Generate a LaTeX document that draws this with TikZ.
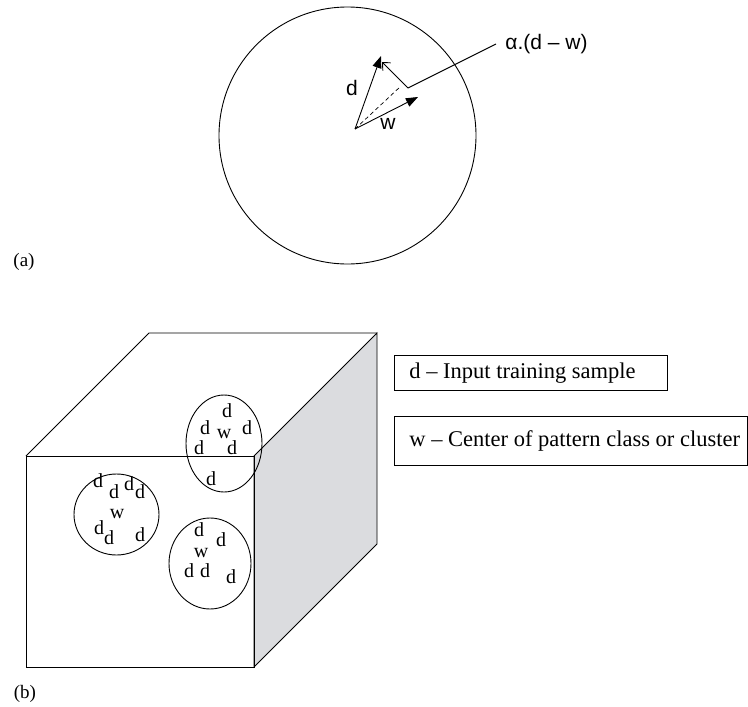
\documentclass[tikz,border=0pt]{standalone}
\usepackage{fontspec}
\setmainfont{Liberation Serif}
\newfontfamily\arialf{Liberation Sans}
\usetikzlibrary{arrows.meta,shapes.geometric}
\definecolor{faceshade}{RGB}{219,220,223}
\begin{document}
\begin{tikzpicture}[x=1pt,y=-1pt,
  line width=0.9pt,
  vec/.style={-{Triangle[length=12pt,width=9pt]}},
  upd/.style={-{Straight Barb[length=6pt,width=11pt]}},
  sanslab/.style={inner sep=0pt,font=\arialf\fontsize{21}{21}\selectfont},
  serlab/.style={inner sep=0pt,font=\fontsize{19}{19}\selectfont},
  ptl/.style={inner sep=0pt,font=\fontsize{20}{20}\selectfont},
  legbox/.style={draw,anchor=north west,inner sep=0pt},
  legtxt/.style={anchor=west,inner sep=0pt,font=\fontsize{22.5}{22.5}\selectfont},
  clus/.style={draw,ellipse,inner sep=0pt}]
\useasboundingbox (0,0) rectangle (748,707);
% ---------- (a) ----------
\node[draw,circle,minimum size=257pt,inner sep=0pt] (C) at (347.5,135.5) {};
\coordinate (O) at (355,129);
\coordinate (D) at (381,56);
\coordinate (W) at (418,97);
\coordinate (U1) at (408,88);
\coordinate (U2) at (382,62);
\coordinate (Dsh) at (401,86);
\draw[vec] (O) -- (D);
\draw[vec] (O) -- (W);
\draw[upd] (U1) -- (U2);
\draw[dashed,line width=0.7pt,dash pattern=on 4pt off 3pt] (O) -- (Dsh);
\node[sanslab,anchor=west] (lab) at (505,44) {α.(d – w)};
\draw (U1) -- ([xshift=-9pt]lab.west);
\node[sanslab] (dl) at (352,88) {d};
\node[sanslab] (wl) at (388,124) {w};
\node[serlab] (pa) at (24,262) {(a)};
% ---------- (b) ----------
\coordinate (F1) at (26,456);
\coordinate (F2) at (254,456);
\coordinate (F3) at (254,667);
\coordinate (F4) at (26,667);
\coordinate (B1) at (149,333);
\coordinate (B2) at (377,333);
\coordinate (B3) at (377,544);
\draw[fill=faceshade] (F2) -- (B2) -- (B3) -- (F3) -- cycle;
\draw (F1) -- (B1) -- (B2);
\draw (F1) rectangle (F3);
% clusters
\node[clus,minimum width=76pt,minimum height=97pt] (E1) at (224,443.5) {};
\node[clus,minimum width=85pt,minimum height=81pt] (E2) at (116.5,514.5) {};
\node[clus,minimum width=82pt,minimum height=91pt] (E3) at (210,563.5) {};
% upper cluster
\node[ptl] (a1) at (227,411) {d};
\node[ptl] (a2) at (205,428) {d};
\node[ptl] (a3) at (224,434) {w};
\node[ptl] (a4) at (247,428) {d};
\node[ptl] (a5) at (199,448) {d};
\node[ptl] (a6) at (232,448) {d};
\node[ptl] (a7) at (211,479) {d};
% left cluster
\node[ptl] (b1) at (98,481) {d};
\node[ptl] (b2) at (114,492) {d};
\node[ptl] (b3) at (129,484) {d};
\node[ptl] (b4) at (140,492) {d};
\node[ptl] (b5) at (117,514) {w};
\node[ptl] (b6) at (99,528) {d};
\node[ptl] (b7) at (109,538) {d};
\node[ptl] (b8) at (140,535) {d};
% lower cluster
\node[ptl] (c1) at (199,530) {d};
\node[ptl] (c2) at (221,540) {d};
\node[ptl] (c3) at (201,553) {w};
\node[ptl] (c4) at (189,571) {d};
\node[ptl] (c5) at (205,571) {d};
\node[ptl] (c6) at (231,577) {d};
% legend
\node[legbox,minimum width=273pt,minimum height=35pt] (L1) at (394,355) {};
\node[legtxt] (T1) at ([xshift=15pt]L1.west) {d – Input training sample};
\node[legbox,minimum width=353pt,minimum height=49pt] (L2) at (394,416) {};
\node[legtxt] (T2) at ([xshift=15pt]L2.west) {w – Center of pattern class or cluster};
\node[serlab] (pb) at (25,694) {(b)};
\end{tikzpicture}
\end{document}
